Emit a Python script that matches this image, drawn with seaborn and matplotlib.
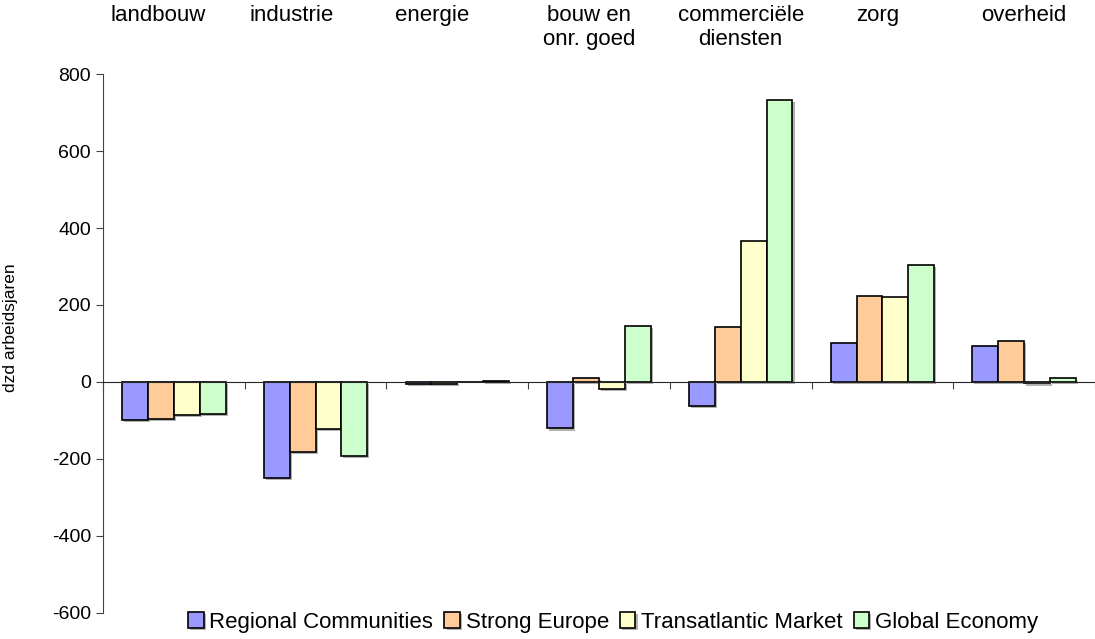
import pandas as pd
import seaborn as sns
import matplotlib.pyplot as plt
import matplotlib.patheffects as pe
import numpy as np

# data
sectors = ["landbouw", "industrie", "energie", "bouw en\nonr. goed",
           "commerciële\ndiensten", "zorg", "overheid"]
scenarios = ["Regional Communities", "Strong Europe",
             "Transatlantic Market", "Global Economy"]
regional = [-98, -250, -5, -121, -62, 101, 94]
strong = [-97, -181, -5, 10, 143, 224, 106]
transatlantic = [-86, -123, 0, -19, 365, 222, -4]
global_eco = [-83, -193, 2, 145, 732, 303, 9]
colors = ["#9999FF", "#FFCC99", "#FFFFCC", "#CCFFCC"]
# the sector names above the plot are not exactly centred on their groups
label_shift = [-0.11, -0.17, -0.18, -0.07, 0.0, -0.03, 0.0]

df = pd.DataFrame({
    "sector": sectors * 4,
    "scenario": np.repeat(scenarios, len(sectors)),
    "value": regional + strong + transatlantic + global_eco,
})

sns.set_style("white")
plt.rcParams["font.family"] = ["Liberation Sans", "DejaVu Sans"]
plt.rcParams["axes.unicode_minus"] = False
plt.rcParams["text.color"] = "black"
plt.rcParams["axes.labelcolor"] = "black"
plt.rcParams["ytick.color"] = "#444444"
plt.rcParams["ytick.labelcolor"] = "black"

fig = plt.figure(figsize=(10.95, 6.39), dpi=100)
ax = fig.add_axes([0.094, 0.041, 0.906, 0.843])

sns.barplot(data=df, x="sector", y="value", hue="scenario", order=sectors,
            hue_order=scenarios, palette=colors, width=0.73,
            edgecolor="black", linewidth=1.2, saturation=1, ax=ax)

# excel style shadow on the bars
for p in ax.patches:
    p.set_path_effects([pe.SimplePatchShadow(offset=(1.5, -1.5), shadow_rgbFace="gray", alpha=0.6),
                        pe.Normal()])

ax.set_xlim(-0.5, 6.5)
ax.set_ylim(-600, 800)
ax.set_yticks(range(-600, 801, 200))
ax.tick_params(axis="y", labelsize=14, length=5, direction="out", left=True)
ax.set_ylabel("dzd arbeidsjaren", fontsize=12.5)
ax.yaxis.set_label_coords(-0.086, 0.53)
ax.set_xlabel("")

# x axis sits on zero, ticks on the category boundaries
ax.spines["bottom"].set_position(("data", 0))
ax.spines["top"].set_visible(False)
ax.spines["right"].set_visible(False)
ax.spines["left"].set_color("#444444")
ax.set_xticks(np.arange(-0.5, 7, 1))
ax.set_xticklabels([])
ax.tick_params(axis="x", length=5, direction="out", bottom=True, color="#444444")

# sector names above the plot
for i, s in enumerate(sectors):
    ax.text(i + label_shift[i], 1.128, s, transform=ax.get_xaxis_transform(),
            ha="center", va="top", fontsize=16, linespacing=1.2)

ax.legend(loc="center", bbox_to_anchor=(0.56, 0.026), bbox_transform=fig.transFigure,
          ncol=4, frameon=False, fontsize=16, handlelength=0.7, handleheight=0.7,
          handletextpad=0.25, columnspacing=0.5, borderaxespad=0)

plt.savefig("out.png", dpi=100)
